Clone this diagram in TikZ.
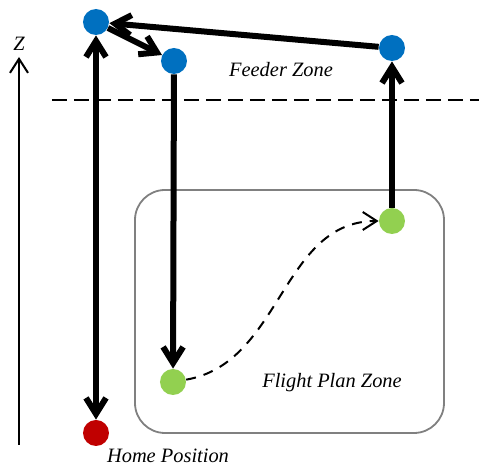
\documentclass[tikz,border=0pt]{standalone}
\usepackage{fontspec}
\setmainfont{Liberation Serif}
\usetikzlibrary{arrows.meta}
\definecolor{feedblue}{HTML}{0070C0}
\definecolor{plangreen}{HTML}{92D050}
\definecolor{homered}{HTML}{C00000}
\definecolor{zonegray}{HTML}{808080}

\begin{document}
\begin{tikzpicture}[x=0.5pt,y=-0.5pt,
  wp/.style={circle,minimum size=13pt,inner sep=0pt},
  leg/.style={line width=3pt,-{Straight Barb[length=8pt,width=10pt]}},
  lbl/.style={font=\fontsize{10.2}{12}\selectfont\itshape}]
  \useasboundingbox (0,0) rectangle (479,465);

  \draw[zonegray,line width=0.9pt,rounded corners=15pt] (135,190) rectangle (444,433);
  \draw[line width=1pt,dash pattern=on 7.5pt off 3.5pt] (52,100) -- (479,100);

  \coordinate (z0) at (19,445);
  \coordinate (z1) at (19,57);
  \draw[line width=1pt,-{Straight Barb[length=7pt,width=9pt]}] (z0) -- (z1);
  \node[lbl] (zl) at (19,44) {Z};

  \node[wp,fill=homered]   (home) at (96,433)  {};
  \node[wp,fill=feedblue]  (f1)   at (96,22)   {};
  \node[wp,fill=feedblue]  (f2)   at (174,61)  {};
  \node[wp,fill=feedblue]  (f3)   at (392,48)  {};
  \node[wp,fill=plangreen] (p1)   at (173,382) {};
  \node[wp,fill=plangreen] (p2)   at (392,221) {};

  \node[lbl] (fz) at (281,70)  {Feeder Zone};
  \node[lbl] (pz) at (332,383) {Flight Plan Zone};
  \node[lbl] (hp) at (168,456) {Home Position};

  \draw[leg,{Straight Barb[length=8pt,width=10pt]}-{Straight Barb[length=8pt,width=10pt]}] (home) -- (f1);
  \draw[leg] (f1) -- (f2);
  \draw[leg] (f2) -- (p1);
  \draw[leg] (p2) -- (f3);
  \draw[leg] (f3) -- (f1);
  \draw[line width=1pt,dash pattern=on 5pt off 4pt,-{Straight Barb[length=7pt,width=9pt]}]
    (p1) to[out=10,in=180] (p2);
\end{tikzpicture}
\end{document}
